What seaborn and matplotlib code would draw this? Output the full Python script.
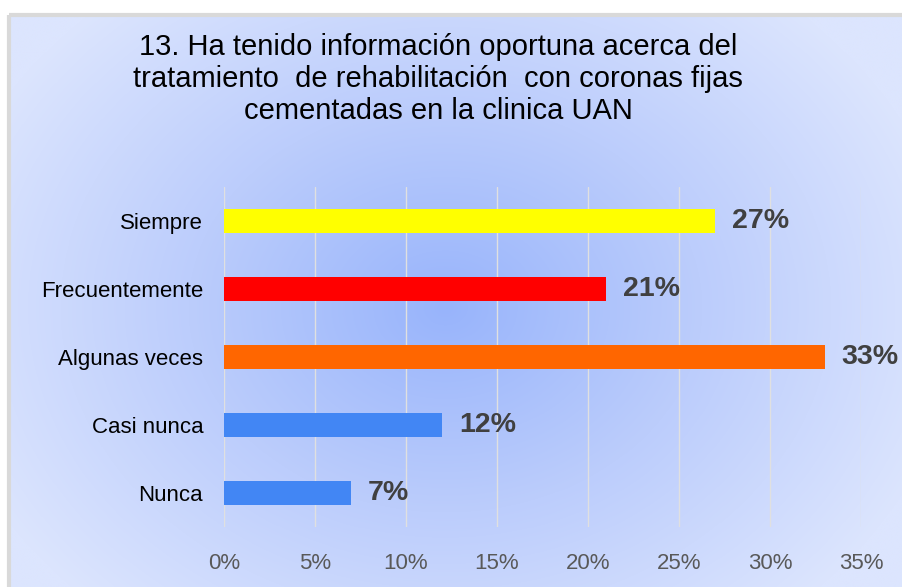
import numpy as np
import pandas as pd
import matplotlib
matplotlib.use("Agg")
import matplotlib.pyplot as plt
import seaborn as sns
from matplotlib.colors import LinearSegmentedColormap
from matplotlib.patches import Rectangle

categories = ["Siempre", "Frecuentemente", "Algunas veces", "Casi nunca", "Nunca"]
values = [27, 21, 33, 12, 7]
labels = ["27%", "21%", "33%", "12%", "7%"]
colors = ["#FFFF00", "#FF0000", "#FF6600", "#4286F4", "#4286F4"]
xticks = [0, 5, 10, 15, 20, 25, 30, 35]
xtick_labels = ["0%", "5%", "10%", "15%", "20%", "25%", "30%", "35%"]
title = ("13. Ha tenido información oportuna acerca del\n"
         "tratamiento  de rehabilitación  con coronas fijas\n"
         "cementadas en la clinica UAN")

sns.set_theme(style="white")
plt.rcParams['font.family'] = ['Liberation Sans', 'DejaVu Sans']

W, H = 903, 587
fig = plt.figure(figsize=(W / 100, H / 100), dpi=100)
fig.patch.set_facecolor("white")

# background gradient panel
bg = fig.add_axes([0, 0, 1, 1], zorder=0)
bg.axis("off")
yy, xx = np.mgrid[0:H, 0:W]
cx, cy = 440, 300
d = np.sqrt(((xx - cx) / 520.0) ** 2 + ((yy - cy) / 420.0) ** 2)
d = np.clip(d, 0, 1)
cmap = LinearSegmentedColormap.from_list("g", ["#98B4FB", "#BCCDFC", "#DCE5FE"])
bg.imshow(d, cmap=cmap, extent=[10, W, H, 15], aspect="auto", vmin=0, vmax=1)
bg.add_patch(Rectangle((9.5, 14.5), W + 5, H, fill=False, edgecolor="#D9D9D9", linewidth=3))
bg.set_xlim(0, W)
bg.set_ylim(H, 0)

ax = fig.add_axes([224 / W, 1 - 527 / H, (861 - 224) / W, (527 - 187) / H], zorder=1)
ax.patch.set_alpha(0)
df = pd.DataFrame({"cat": categories, "val": values})
sns.barplot(data=df, y="cat", x="val", hue="cat", palette=colors, legend=False,
            orient="h", width=0.36, ax=ax, saturation=1, linewidth=0, zorder=3)
ax.set_xlim(0, 35)
ax.set_ylim(4.5, -0.5)
ax.set_xticks(xticks)
ax.set_xticklabels(xtick_labels, color="#595959", fontsize=16)
ax.tick_params(axis="x", length=0, pad=19)
ax.tick_params(axis="y", length=0, pad=15, labelsize=16, labelcolor="#000000")
ax.set_xlabel("")
ax.set_ylabel("")
ax.grid(axis="x", color="#E0E0E0", linewidth=1, zorder=0)
ax.set_axisbelow(True)
for s in ax.spines.values():
    s.set_visible(False)

for i, (v, lab) in enumerate(zip(values, labels)):
    ax.text(v + 0.9, i, lab, va="center", ha="left", fontsize=20.5,
            fontweight="bold", color="#404040", zorder=4)

fig.text(438 / W, 1 - 79 / H, title, ha="center", va="center", fontsize=21,
         color="#000000", linespacing=1.2)

fig.savefig("out.png", dpi=100)
